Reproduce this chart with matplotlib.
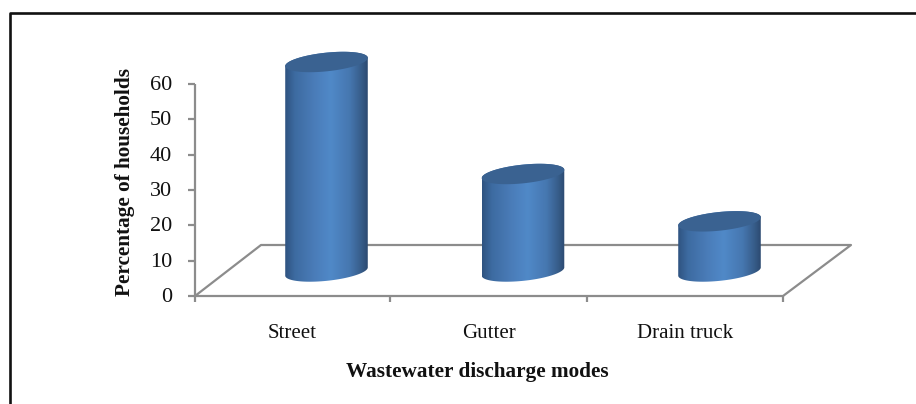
import numpy as np
import matplotlib
matplotlib.use("Agg")
import matplotlib.pyplot as plt
from matplotlib.patches import Polygon
from matplotlib.colors import LinearSegmentedColormap

plt.rcParams['font.family'] = ['Liberation Serif', 'DejaVu Serif']

categories = ['Street', 'Gutter', 'Drain truck']
values = [59.3, 27.6, 14.2]
y_ticks = [0, 10, 20, 30, 40, 50, 60]

W, H = 916, 404
GREY = '#8c8c8c'
# figure pixels per unit on the value axis and per category
Y0, PER_UNIT = 296, 3.533
X0, PER_CAT = 326.5, 196.5
BASE_RISE = 24.5  # cylinder base sits back from the front edge of the floor
LABEL_SHIFT = 34  # labels centre on the front edge, cylinders on the mid floor
RX, RY, TILT = 41.5, 9.3, np.radians(6)

fig = plt.figure(figsize=(W / 100, H / 100), dpi=100)
ax = fig.add_axes([0, 0, 1, 1])
ax.axis('off')


def dx(px):
    return (px - X0) / PER_CAT


def dy(py):
    return (Y0 - py) / PER_UNIT


def line(xs, ys, **kw):
    ax.plot([dx(x) for x in xs], [dy(y) for y in ys], color=GREY, lw=1.6,
            solid_capstyle='butt', **kw)


# outer frame, open on the right
frame = [(10, H), (10, 13.5), (W, 13.5)]
ax.plot([dx(p[0]) for p in frame], [dy(p[1]) for p in frame], color='#111111', lw=1.9)

# floor and axis
line([195, 783, 851, 261, 195], [296, 296, 245, 245, 296])
line([195, 195], [84, 296])
for t in y_ticks:
    py = Y0 - t * PER_UNIT
    line([188, 195], [py, py])
    ax.text(dx(172), dy(py + 1.5), str(t), ha='right', va='center', fontsize=16, color='#111111')
for px in [195, 390, 587, 783]:
    line([px, px], [296, 302])

cmap = LinearSegmentedColormap.from_list(
    'cyl', [(0, '#2f5380'), (0.12, '#3d6ba1'), (0.35, '#4a7cb8'), (0.55, '#5089c8'),
            (0.78, '#4677b0'), (0.92, '#375d8a'), (1, '#2c4a70')])
grad = np.linspace(0, 1, 256).reshape(1, -1)


def ellipse_pts(cx, cy, t):
    # returns figure pixel coordinates, y down
    ex = RX * np.cos(t)
    ey = RY * np.sin(t)
    return cx + ex * np.cos(TILT) + ey * np.sin(TILT), cy - ex * np.sin(TILT) + ey * np.cos(TILT)


for i, (cat, val) in enumerate(zip(categories, values)):
    cx = X0 + i * PER_CAT
    base_y = Y0 - BASE_RISE
    top_y = base_y - val * PER_UNIT
    t = np.linspace(0, np.pi, 80)
    bx, by = ellipse_pts(cx, base_y, t)
    tx, ty = ellipse_pts(cx, top_y, t + np.pi)
    pts = np.column_stack([[dx(v) for v in np.r_[bx, tx]], [dy(v) for v in np.r_[by, ty]]])
    body = Polygon(pts, closed=True, fc='none', ec='none', zorder=3)
    ax.add_patch(body)
    im = ax.imshow(grad, extent=[dx(cx - RX), dx(cx + RX), dy(base_y + 14), dy(top_y - 14)],
                   cmap=cmap, aspect='auto', zorder=3, interpolation='bilinear')
    im.set_clip_path(body)
    t = np.linspace(0, 2 * np.pi, 160)
    ex, ey = ellipse_pts(cx, top_y, t)
    ax.add_patch(Polygon(np.column_stack([[dx(v) for v in ex], [dy(v) for v in ey]]),
                         closed=True, fc='#3a6291', ec='none', zorder=4))
    ax.text(dx(cx - LABEL_SHIFT), dy(334), cat, ha='center', va='center', fontsize=15, color='#111111')

ax.set_xlim(-X0 / PER_CAT, (W - X0) / PER_CAT)
ax.set_ylim((Y0 - H) / PER_UNIT, Y0 / PER_UNIT)

ax.text(dx(125), dy(182), 'Percentage of households', rotation=90, ha='center', va='center',
        fontsize=15.3, fontweight='bold', color='#111111')
ax.text(dx(477), dy(372.5), 'Wastewater discharge modes', ha='center', va='center',
        fontsize=15.3, fontweight='bold', color='#111111')

fig.savefig('out.png', dpi=100, facecolor='white')
